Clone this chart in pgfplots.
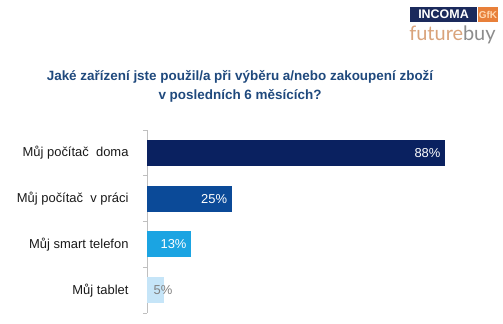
\documentclass[border=0pt]{standalone}
\usepackage{pgfplots}
\pgfplotsset{compat=1.18}
\usepackage{fontspec}
\setmainfont{Liberation Sans}
\newfontfamily\logofont{Lato}
\definecolor{titleblue}{RGB}{31,73,125}
\definecolor{barA}{RGB}{10,33,96}
\definecolor{barB}{RGB}{11,74,152}
\definecolor{barC}{RGB}{27,164,226}
\definecolor{barD}{RGB}{198,229,248}
\definecolor{incoma}{RGB}{27,42,92}
\definecolor{gfk}{RGB}{232,128,58}
\definecolor{futuretan}{RGB}{217,163,123}
\definecolor{buygray}{RGB}{140,140,140}
\definecolor{axisgray}{RGB}{191,191,191}
\begin{document}
\begin{tikzpicture}
\path[use as bounding box] (0,0) rectangle (503bp,324bp);
% logo
\node[fill=incoma, minimum width=67bp, minimum height=15bp, inner sep=0pt, text=white, font=\fontsize{12.5}{14}\selectfont\bfseries] at (443.5bp,309.5bp) {INCOMA};
\node[fill=gfk, minimum width=20bp, minimum height=15bp, inner sep=0pt, text=orange!30, font=\fontsize{10}{12}\selectfont\bfseries] at (488bp,309.5bp) {GfK};
\node[inner sep=0pt, anchor=base, font=\logofont\fontsize{20}{22}\selectfont] at (452.5bp,283bp) {\textcolor{futuretan}{future}\textcolor{buygray}{buy}};
% title
\node[align=center, text=titleblue, font=\fontsize{13.5}{19}\selectfont\bfseries, inner sep=0pt] at (240bp,237.5bp) {Jaké zařízení jste použil/a při výběru a/nebo zakoupení zboží\\v posledních 6 měsících?};
\begin{axis}[
  at={(147bp,11bp)}, anchor=south west,
  scale only axis, width=338.6bp, height=183bp,
  xmin=0, xmax=100, ymin=-0.5, ymax=3.5,
  y dir=reverse,
  xbar, bar width=26bp, bar shift=0pt,
  axis x line=none, axis y line*=left,
  y axis line style={axisgray, line width=0.8pt},
  ytick={0,1,2,3},
  yticklabels={Můj počítač\ \ doma, Můj počítač\ \ v práci, Můj smart telefon, Můj tablet},
  major tick length=0pt,
  extra y ticks={-0.5,0.5,1.5,2.5,3.5},
  extra y tick labels={},
  extra y tick style={major tick length=4bp, tick align=outside, tick style={axisgray, line width=0.8pt}},
  yticklabel style={font=\fontsize{13}{15}\selectfont, text=black!90, xshift=-15bp},
  point meta=x,
  nodes near coords={\pgfmathprintnumber{\pgfplotspointmeta}\%},
  every node near coord/.append style={font=\fontsize{13}{15}\selectfont, text=white, anchor=east, xshift=-1bp},
  /pgf/number format/assume math mode=true,
  clip=false,
]
\addplot[draw=none, fill=barA] coordinates {(88,0)};
\addplot[draw=none, fill=barB] coordinates {(25,1)};
\addplot[draw=none, fill=barC] coordinates {(13,2)};
\addplot[draw=none, fill=barD, every node near coord/.append style={text=black!50, xshift=13bp}] coordinates {(5,3)};
\end{axis}
\end{tikzpicture}
\end{document}
